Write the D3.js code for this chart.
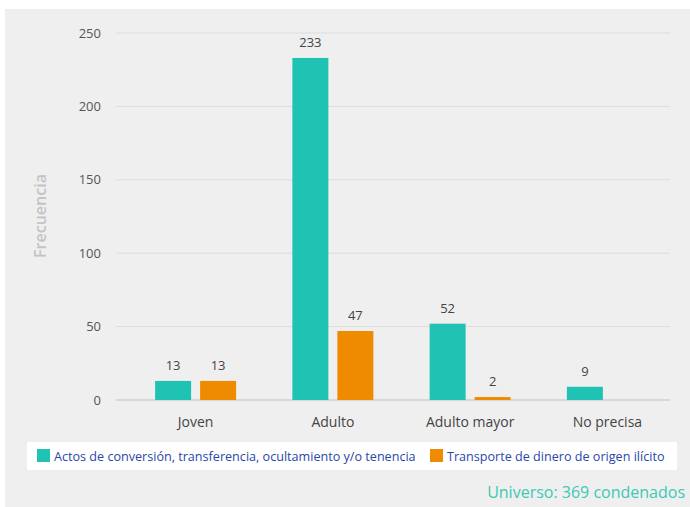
<!DOCTYPE html>
<html>
<head>
<meta charset="utf-8">
<script src="https://cdn.jsdelivr.net/npm/d3@7"></script>
<style>
  body { margin: 0; background: #fff; }
  svg { display: block; font-family: "Open Sans", sans-serif; }
</style>
</head>
<body>
<svg id="chart" width="690" height="507"></svg>
<script>
// data
const categories = ["Joven", "Adulto", "Adulto mayor", "No precisa"];
const seriesNames = [
  "Actos de conversión, transferencia, ocultamiento y/o tenencia",
  "Transporte de dinero de origen ilícito"
];
const actos = [13, 233, 52, 9];
const transporte = [13, 47, 2, null];
const yTicks = [0, 50, 100, 150, 200, 250];
const colors = ["#20c3b3", "#ef8b00"];

const svg = d3.select("#chart");

// gray panel
svg.append("rect")
  .attr("x", 5).attr("y", 9)
  .attr("width", 685).attr("height", 498)
  .attr("fill", "#efefef");

const y = d3.scaleLinear().domain([0, 250]).range([400, 33]);
const x = d3.scaleBand().domain(categories).range([127, 676]);

// grid
svg.append("g").selectAll("line")
  .data(yTicks)
  .join("line")
  .attr("x1", 116).attr("x2", 670)
  .attr("y1", d => y(d)).attr("y2", d => y(d))
  .attr("stroke", d => d === 0 ? "#d0d0d0" : "#dcdcdc")
  .attr("stroke-width", d => d === 0 ? 1.5 : 1);

svg.append("g").selectAll("text")
  .data(yTicks)
  .join("text")
  .attr("x", 101).attr("y", d => y(d))
  .attr("dy", "0.35em")
  .attr("text-anchor", "end")
  .attr("font-size", 13)
  .attr("fill", "#555")
  .text(d => d);

svg.append("text")
  .attr("transform", "translate(46,216) rotate(-90)")
  .attr("text-anchor", "middle")
  .attr("font-size", 16)
  .attr("font-weight", 600)
  .attr("fill", "#c4c4c4")
  .text("Frecuencia");

// bars
const rows = [];
categories.forEach((c, i) => {
  [actos[i], transporte[i]].forEach((v, s) => {
    if (v != null) rows.push({ cat: c, s: s, v: v });
  });
});

const bw = 36;
const g = svg.append("g");
g.selectAll("rect")
  .data(rows)
  .join("rect")
  .attr("x", d => x(d.cat) + x.bandwidth() / 2 + (d.s === 0 ? -40.5 : 4.5))
  .attr("y", d => y(d.v))
  .attr("width", bw)
  .attr("height", d => y(0) - y(d.v))
  .attr("fill", d => colors[d.s]);

g.selectAll("text")
  .data(rows)
  .join("text")
  .attr("x", d => x(d.cat) + x.bandwidth() / 2 + (d.s === 0 ? -22.5 : 22.5))
  .attr("y", d => y(d.v) - 11)
  .attr("text-anchor", "middle")
  .attr("font-size", 13)
  .attr("fill", "#444")
  .text(d => d.v);

// category labels
svg.append("g").selectAll("text")
  .data(categories)
  .join("text")
  .attr("x", d => x(d) + x.bandwidth() / 2)
  .attr("y", 427)
  .attr("text-anchor", "middle")
  .attr("font-size", 14)
  .attr("fill", "#444")
  .text(d => d);

// legend
svg.append("rect")
  .attr("x", 27).attr("y", 442)
  .attr("width", 650).attr("height", 28)
  .attr("fill", "#fff");

const legendX = [37, 430];
seriesNames.forEach((name, i) => {
  svg.append("rect")
    .attr("x", legendX[i]).attr("y", 449)
    .attr("width", 13).attr("height", 13)
    .attr("fill", colors[i]);
  svg.append("text")
    .attr("x", legendX[i] + 17).attr("y", 457)
    .attr("dy", "0.35em")
    .attr("font-size", 12.6)
    .attr("fill", "#2a47a8")
    .text(name);
});

svg.append("text")
  .attr("x", 685).attr("y", 492)
  .attr("dy", "0.35em")
  .attr("text-anchor", "end")
  .attr("font-size", 16)
  .attr("fill", "#3cc9b5")
  .text("Universo: 369 condenados");
</script>
</body>
</html>
